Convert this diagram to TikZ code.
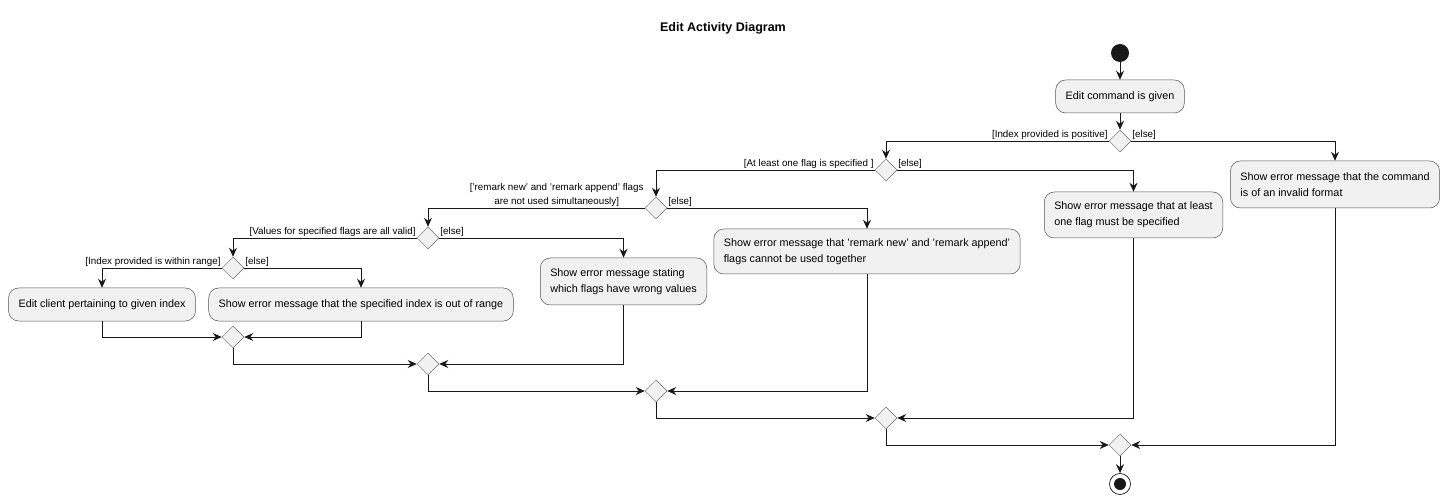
\documentclass[tikz,border=0pt]{standalone}
\usepackage{fontspec}
\setmainfont{Liberation Sans}
\usetikzlibrary{shapes.geometric,arrows.meta}
\definecolor{umlfill}{HTML}{F1F1F1}
\definecolor{umlline}{HTML}{181818}

\begin{document}
\begin{tikzpicture}[x=1pt,y=-1pt]
      % \tikzset{every node/.style={draw=red}}
      \tikzset{action/.style={draw=umlline!75, fill=umlfill, rounded corners=10pt, line width=0.5pt,
          minimum height=33pt, inner xsep=10pt, align=left, font=\fontsize{10.8}{16}\selectfont}}
      \tikzset{choice/.style={diamond, draw=umlline!65, fill=umlfill, line width=0.5pt,
          minimum width=22pt, minimum height=22pt, inner sep=0pt}}
      \tikzset{guard/.style={font=\fontsize{9.8}{14}\selectfont, inner sep=1pt}}
      \tikzset{flow/.style={draw=umlline, line width=0.9pt, -{Stealth[length=9pt,width=8pt,inset=3pt]}}}
      \useasboundingbox (0,0) rectangle (1447,502);

      \node[font=\bfseries\fontsize{12.5}{16}\selectfont] (title) at (723,28) {Edit Activity Diagram};
      \node[circle, fill=umlline, minimum size=18pt, inner sep=0pt] (start) at (1120,53) {};
      \node[action] (cmd) at (1120,96.5) {Edit command is given};

      % decisions
      \node[choice] (d1) at (1120,141) {};
      \node[choice] (d2) at (886,170) {};
      \node[choice] (d3) at (656,208) {};
      \node[choice] (d4) at (428,238) {};
      \node[choice] (d5) at (233,268) {};

      \node[guard, anchor=south east] (g1) at (d1.west) {[Index provided is positive]};
      \node[guard, anchor=south west] (e1) at (d1.east) {[else]};
      \node[guard, anchor=south east] (g2) at (d2.west) {[At least one flag is specified ]};
      \node[guard, anchor=south west] (e2) at (d2.east) {[else]};
      \node[guard, anchor=south east, align=center] (g3) at (d3.west) {['remark new' and 'remark append' flags\\are not used simultaneously]};
      \node[guard, anchor=south west] (e3) at (d3.east) {[else]};
      \node[guard, anchor=south east] (g4) at (d4.west) {[Values for specified flags are all valid]};
      \node[guard, anchor=south west] (e4) at (d4.east) {[else]};
      \node[guard, anchor=south east] (g5) at (d5.west) {[Index provided is within range]};
      \node[guard, anchor=south west] (e5) at (d5.east) {[else]};

      % actions
      \node[action, minimum height=47pt] (invalid) at (1335,184.5) {Show error message that the command\\is of an invalid format};
      \node[action, minimum height=46pt] (noflag) at (1133.5,215) {Show error message that at least\\one flag must be specified};
      \node[action, minimum height=45pt] (together) at (867,251.5) {Show error message that 'remark new' and 'remark append'\\flags cannot be used together};
      \node[action, minimum height=47pt] (wrongval) at (623.5,281.5) {Show error message stating\\which flags have wrong values};
      \node[action] (editc) at (102,304.5) {Edit client pertaining to given index};
      \node[action] (outrange) at (361,304.5) {Show error message that the specified index is out of range};

      % merges
      \node[choice] (m5) at (233,337) {};
      \node[choice] (m4) at (428,364) {};
      \node[choice] (m3) at (656,391) {};
      \node[choice] (m2) at (886,418) {};
      \node[choice] (m1) at (1120,445) {};
      \node[circle, draw=umlline, line width=0.7pt, fill=white, minimum size=21pt, inner sep=0pt] (stop) at (1120,484) {};
      \node[circle, fill=umlline, minimum size=12pt, inner sep=0pt] (stopdot) at (stop) {};

      \draw[flow] (start) -- (cmd);
      \draw[flow] (cmd) -- (d1);
      \draw[flow] (d1.west) -| (d2.north);
      \draw[flow] (d1.east) -| (invalid.north);
      \draw[flow] (d2.west) -| (d3.north);
      \draw[flow] (d2.east) -| (noflag.north);
      \draw[flow] (d3.west) -| (d4.north);
      \draw[flow] (d3.east) -| (together.north);
      \draw[flow] (d4.west) -| (d5.north);
      \draw[flow] (d4.east) -| (wrongval.north);
      \draw[flow] (d5.west) -| (editc.north);
      \draw[flow] (d5.east) -| (outrange.north);
      \draw[flow] (editc.south) |- (m5.west);
      \draw[flow] (outrange.south) |- (m5.east);
      \draw[flow] (m5.south) |- (m4.west);
      \draw[flow] (wrongval.south) |- (m4.east);
      \draw[flow] (m4.south) |- (m3.west);
      \draw[flow] (together.south) |- (m3.east);
      \draw[flow] (m3.south) |- (m2.west);
      \draw[flow] (noflag.south) |- (m2.east);
      \draw[flow] (m2.south) |- (m1.west);
      \draw[flow] (invalid.south) |- (m1.east);
      \draw[flow] (m1) -- (stop);
    \end{tikzpicture}
\end{document}
